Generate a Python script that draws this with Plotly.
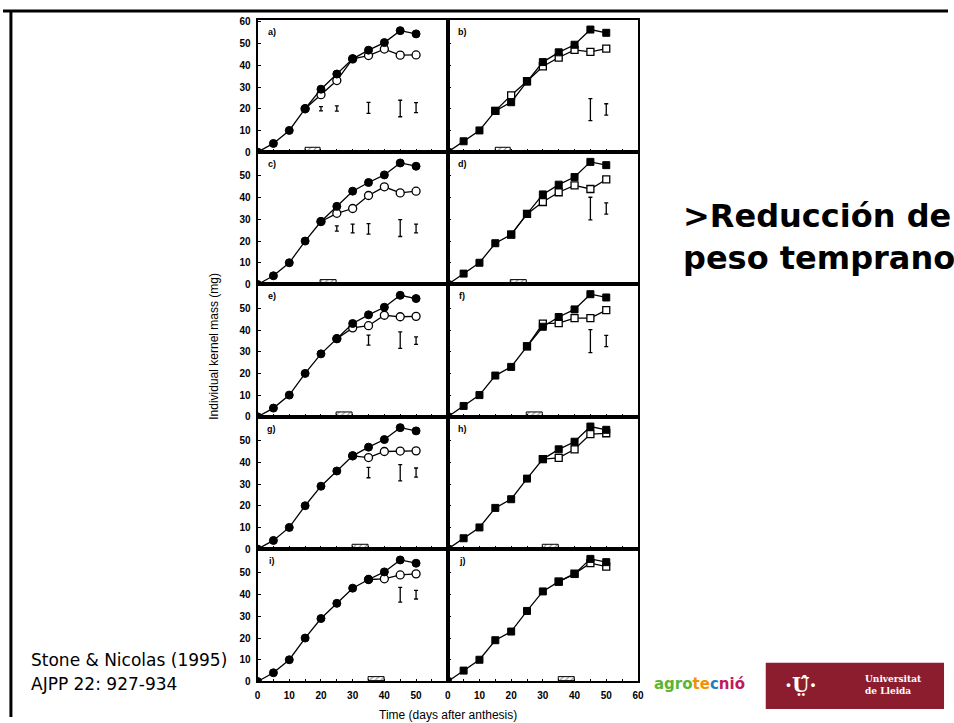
import plotly.graph_objects as go

# ---------------- data ----------------
days = [0, 5, 10, 15, 20, 25, 30, 35, 40, 45, 50]
control_circle = [0, 4, 10, 20, 29, 36, 43, 47, 50.5, 56, 54.5]
control_square = [0, 5, 10, 19, 23, 32.5, 41.5, 46, 49.5, 56.5, 55]

panel_labels = ["a)", "b)", "c)", "d)", "e)", "f)", "g)", "h)", "i)", "j)"]
window_start = [15, 15, 20, 20, 25, 25, 30, 30, 35, 35]

treated_days_a = [15, 20, 25, 30, 35, 40, 45, 50]
treated_a = [20, 26.5, 33, 43, 44.5, 47.5, 44.7, 44.8]
treated_days_b = [15, 20, 25, 30, 35, 40, 45, 50]
treated_b = [19, 26.2, 32.7, 39.5, 43.6, 47.1, 46.2, 47.7]
treated_days_c = [20, 25, 30, 35, 40, 45, 50]
treated_c = [29, 32.8, 35, 41, 45, 42.2, 43]
treated_days_d = [20, 25, 30, 35, 40, 45, 50]
treated_d = [23, 32.5, 38, 42.5, 45.7, 44, 48.4]
treated_days_e = [25, 30, 35, 40, 45, 50]
treated_e = [36, 41, 42, 46.8, 46.1, 46.3]
treated_days_f = [25, 30, 35, 40, 45, 50]
treated_f = [32.5, 42.9, 43.2, 45.5, 45.5, 49.2]
treated_days_g = [30, 35, 40, 45, 50]
treated_g = [43, 42.2, 45, 45.2, 45.3]
treated_days_h = [30, 35, 40, 45, 50]
treated_h = [41.5, 42.1, 46, 53, 53.4]
treated_days_i = [35, 40, 45, 50]
treated_i = [47, 47.3, 49.1, 49.6]
treated_days_j = [35, 40, 45, 50]
treated_j = [46, 49.7, 54.5, 52.9]

err_days_a = [20, 25, 35, 45, 50]
err_mid_a = [20, 20.1, 20.4, 20.1, 20.5]
err_half_a = [1, 1.2, 2.5, 3.8, 2.3]
err_days_b = [45, 50]
err_mid_b = [19.6, 19.7]
err_half_b = [5.1, 2.6]
err_days_c = [25, 30, 35, 45, 50]
err_mid_c = [25.8, 25.8, 25.6, 26, 25.8]
err_half_c = [1.2, 2, 2.4, 3.9, 2]
err_days_d = [45, 50]
err_mid_d = [35, 35]
err_half_d = [5.2, 2.6]
err_days_e = [35, 45, 50]
err_mid_e = [35.3, 35.3, 35.1]
err_half_e = [2.3, 3.8, 1.7]
err_days_f = [45, 50]
err_mid_f = [34.9, 34.9]
err_half_f = [5.3, 2.6]
err_days_g = [35, 45, 50]
err_mid_g = [35.3, 35.2, 35.3]
err_half_g = [2.4, 3.7, 2.1]
err_days_h = []
err_mid_h = []
err_half_h = []
err_days_i = [45, 50]
err_mid_i = [40, 40]
err_half_i = [3.4, 2]
err_days_j = []
err_mid_j = []
err_half_j = []

x_ticks = [0, 10, 20, 30, 40, 50, 60]
y_ticks = [0, 10, 20, 30, 40, 50, 60]

# ---------------- build ----------------
treated_days = [treated_days_a, treated_days_b, treated_days_c, treated_days_d, treated_days_e,
                treated_days_f, treated_days_g, treated_days_h, treated_days_i, treated_days_j]
treated_vals = [treated_a, treated_b, treated_c, treated_d, treated_e,
                treated_f, treated_g, treated_h, treated_i, treated_j]
err_days = [err_days_a, err_days_b, err_days_c, err_days_d, err_days_e,
            err_days_f, err_days_g, err_days_h, err_days_i, err_days_j]
err_mid = [err_mid_a, err_mid_b, err_mid_c, err_mid_d, err_mid_e,
           err_mid_f, err_mid_g, err_mid_h, err_mid_i, err_mid_j]
err_half = [err_half_a, err_half_b, err_half_c, err_half_d, err_half_e,
            err_half_f, err_half_g, err_half_h, err_half_i, err_half_j]

W, H = 954, 723
col_px = [(257, 449), (449, 641)]
top0, row_h = 17, 134

fig = go.Figure()
layout_axes = {}
annotations = []
tickfont = dict(family="Liberation Sans", size=10, color="black", weight="bold")

for p in range(10):
    row, col = p // 2, p % 2
    sfx = "" if p == 0 else str(p + 1)
    xr, yr = "x" + sfx, "y" + sfx
    is_circle = col == 0
    ctrl = control_circle if is_circle else control_square
    sym_f = "circle" if is_circle else "square"
    msize = 8 if is_circle else 7

    # treatment window (hatched box on the x axis)
    fig.add_trace(go.Bar(
        x=[window_start[p] + 2.5], y=[2], width=[5], xaxis=xr, yaxis=yr,
        marker=dict(color="white", line=dict(color="black", width=1),
                    pattern=dict(shape="/", fgcolor="black", size=4, solidity=0.25)),
        showlegend=False, hoverinfo="skip"))

    # treated
    fig.add_trace(go.Scatter(
        x=treated_days[p], y=treated_vals[p], xaxis=xr, yaxis=yr, mode="lines+markers",
        line=dict(color="black", width=1.3),
        marker=dict(symbol=sym_f, size=msize, color="white",
                    line=dict(color="black", width=1.3)),
        showlegend=False))
    # control
    fig.add_trace(go.Scatter(
        x=days, y=ctrl, xaxis=xr, yaxis=yr, mode="lines+markers",
        line=dict(color="black", width=1.3),
        marker=dict(symbol=sym_f, size=msize, color="black", line=dict(color="black", width=1)),
        showlegend=False))
    # LSD bars
    if err_days[p]:
        fig.add_trace(go.Scatter(
            x=err_days[p], y=err_mid[p], xaxis=xr, yaxis=yr, mode="markers",
            marker=dict(size=1, color="rgba(0,0,0,0)"),
            error_y=dict(type="data", array=err_half[p], symmetric=True, color="black",
                         thickness=1.3, width=2),
            showlegend=False))

    x0, x1 = col_px[col]
    ytop = top0 + row_h * row
    ybot = ytop + row_h
    xt = list(range(0, 61, 5))
    if row == 4:
        xtt = [str(v) if (v % 10 == 0 and (col == 1 or v < 60)) else "" for v in xt]
    else:
        xtt = ["" for v in xt]
    layout_axes["xaxis" + sfx] = dict(
        domain=[x0 / W, x1 / W], range=[0, 60], anchor=yr, showline=True, mirror=True,
        linecolor="black", linewidth=1.5, ticks="inside", ticklen=3, tickcolor="black",
        tickvals=xt, ticktext=xtt, tickfont=tickfont, ticklabelstandoff=4,
        showgrid=False, zeroline=False, fixedrange=True)
    yt = [v for v in y_ticks if v < 60 or p == 0]
    layout_axes["yaxis" + sfx] = dict(
        domain=[1 - ybot / H, 1 - ytop / H], range=[0, 61], anchor=xr, showline=True,
        mirror=True, linecolor="black", linewidth=1.5 if col == 1 else 2, ticks="inside",
        ticklen=3, tickcolor="black", tickvals=yt, showticklabels=(col == 0),
        tickfont=tickfont, ticklabelstandoff=3, showgrid=False, zeroline=False, fixedrange=True)
    annotations.append(dict(x=4.5, y=55.5, xref=xr, yref=yr, text=panel_labels[p], showarrow=False,
                            xanchor="center", yanchor="middle",
                            font=dict(family="Liberation Sans", size=9, color="black", weight="bold")))

# axis titles
annotations.append(dict(x=204 / W, y=1 - 348 / H, xref="paper", yref="paper",
                        text="Individual kernel mass (mg)", textangle=-90, showarrow=False,
                        font=dict(family="Liberation Sans", size=12, color="black")))
annotations.append(dict(x=449 / W, y=1 - 721 / H, xref="paper", yref="paper",
                        text="Time (days after anthesis)", showarrow=False, yanchor="middle",
                        xanchor="center",
                        font=dict(family="Liberation Sans", size=12, color="black")))
# slide texts
annotations.append(dict(x=26 / W, y=1 - 665 / H, xref="paper", yref="paper", xanchor="left",
                        text="Stone &amp; Nicolas (1995)", showarrow=False, yanchor="middle",
                        font=dict(family="DejaVu Sans", size=17, color="black")))
annotations.append(dict(x=26 / W, y=1 - 690 / H, xref="paper", yref="paper", xanchor="left",
                        text="AJPP 22: 927-934", showarrow=False, yanchor="middle",
                        font=dict(family="DejaVu Sans", size=17, color="black")))
annotations.append(dict(x=684 / W, y=1 - 216 / H, xref="paper", yref="paper", xanchor="left",
                        text="&gt;Reducción de", showarrow=False, yanchor="middle",
                        font=dict(family="DejaVu Sans", size=32, color="black", weight="bold")))
annotations.append(dict(x=684 / W, y=1 - 258 / H, xref="paper", yref="paper", xanchor="left",
                        text="peso temprano", showarrow=False, yanchor="middle",
                        font=dict(family="DejaVu Sans", size=32, color="black", weight="bold")))
# logos (approximate)
annotations.append(dict(x=703 / W, y=1 - 690 / H, xref="paper", yref="paper",
                        xanchor="center",
                        text="<b><span style='color:#5cb531'>agro</span>"
                             "<span style='color:#f39200'>te</span>"
                             "<span style='color:#1f7fc1'>c</span>"
                             "<span style='color:#c2185b'>nió</span></b>",
                        showarrow=False, yanchor="middle",
                        font=dict(family="DejaVu Sans", size=15, color="#5cb531")))
annotations.append(dict(x=868 / W, y=1 - 691 / H, xref="paper", yref="paper",
                        text="<b>Universitat<br>de Lleida</b>", showarrow=False, yanchor="middle",
                        xanchor="left", align="left",
                        font=dict(family="DejaVu Serif", size=9, color="white")))
annotations.append(dict(x=805 / W, y=1 - 691 / H, xref="paper", yref="paper",
                        text="<b>·Ṳ̂·</b>", showarrow=False, yanchor="middle", xanchor="center",
                        font=dict(family="DejaVu Serif", size=20, color="white")))

shapes = [
    dict(type="line", xref="paper", yref="paper", x0=0, x1=1, y0=1 - 8 / H, y1=1 - 8 / H,
         line=dict(color="black", width=3)),
    dict(type="line", xref="paper", yref="paper", x0=8 / W, x1=8 / W, y0=0, y1=1 - 8 / H,
         line=dict(color="black", width=3)),
    dict(type="rect", xref="paper", yref="paper", x0=770 / W, x1=950 / W,
         y0=1 - 715 / H, y1=1 - 668 / H, fillcolor="#8c1d2e", line=dict(width=0)),
]

fig.update_layout(
    width=W, height=H, margin=dict(l=0, r=0, t=0, b=0),
    paper_bgcolor="white", plot_bgcolor="white", showlegend=False,
    annotations=annotations, shapes=shapes, bargap=0, **layout_axes)

fig.write_html("out.html")
